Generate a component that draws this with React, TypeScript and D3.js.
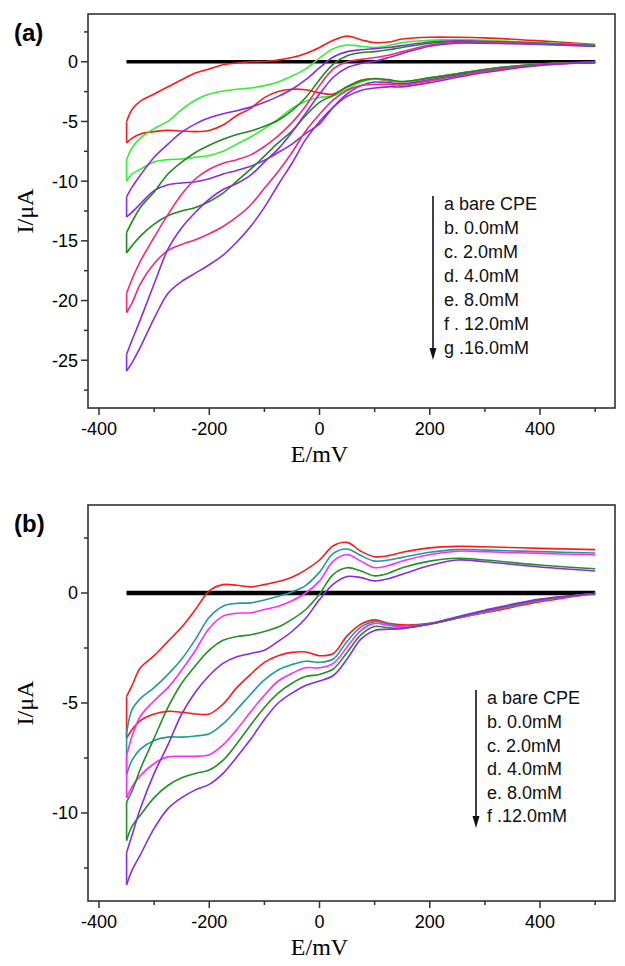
import React from "react";
import * as d3 from "d3";

// potential grid (mV), shared by every branch
const potentials = [-350, -340, -325, -300, -275, -250, -225, -200, -175, -150, -125, -100, -75, -50, -25, 0, 25, 50, 75, 100, 125, 150, 200, 250, 300, 400, 500];

// panel (a): anodic (upper) and cathodic (lower) branches, µA
const aRedUp = [-5.0, -4.0, -3.3, -2.7, -2.1, -1.5, -0.95, -0.6, -0.25, -0.1, 0.0, 0.02, 0.15, 0.35, 0.7, 1.2, 1.8, 2.15, 1.85, 1.6, 1.65, 1.9, 2.05, 2.05, 2.0, 1.75, 1.45];
const aRedLo = [-6.8, -6.4, -6.05, -5.85, -5.75, -5.8, -5.85, -5.75, -5.3, -4.5, -3.9, -3.0, -2.5, -2.3, -2.35, -2.6, -2.7, -2.1, -1.55, -1.45, -1.6, -1.7, -1.35, -1.0, -0.65, -0.2, -0.05];
const aGreenUp = [-8.2, -7.2, -6.4, -5.6, -5.0, -4.0, -3.2, -2.7, -2.45, -2.3, -2.2, -2.0, -1.7, -1.2, -0.6, 0.3, 1.1, 1.4, 1.3, 1.2, 1.35, 1.6, 1.8, 1.85, 1.8, 1.6, 1.4];
const aGreenLo = [-10.0, -9.4, -9.0, -8.4, -8.2, -8.15, -8.0, -7.85, -7.5, -6.9, -6.3, -5.6, -4.8, -3.9, -3.3, -3.0, -2.85, -2.3, -1.7, -1.45, -1.55, -1.7, -1.35, -1.0, -0.65, -0.2, -0.05];
const aPurpleUp = [-11.3, -10.5, -9.5, -8.0, -6.9, -5.9, -5.2, -4.7, -4.35, -4.1, -3.8, -3.4, -2.9, -2.3, -1.5, -0.5, 0.4, 0.85, 1.0, 1.1, 1.2, 1.35, 1.65, 1.75, 1.7, 1.55, 1.35];
const aPurpleLo = [-13.0, -12.6, -11.9, -10.8, -10.3, -10.15, -10.05, -9.8, -9.4, -9.1, -8.75, -8.25, -7.6, -6.9, -6.0, -5.2, -3.8, -2.7, -2.0, -1.7, -1.75, -1.85, -1.5, -1.1, -0.75, -0.25, -0.05];
const aDkGreenUp = [-14.3, -13.4, -12.2, -10.9, -9.4, -8.4, -7.6, -7.0, -6.5, -6.1, -5.8, -5.4, -4.9, -4.1, -3.0, -1.5, -0.2, 0.5, 0.75, 0.85, 1.0, 1.2, 1.55, 1.7, 1.7, 1.55, 1.35];
const aDkGreenLo = [-16.0, -15.4, -14.6, -13.6, -12.9, -12.5, -12.2, -11.7, -11.0, -10.0, -9.0, -7.9, -6.8, -5.8, -4.5, -3.4, -2.8, -2.1, -1.6, -1.4, -1.5, -1.65, -1.35, -1.0, -0.65, -0.2, -0.05];
const aPinkUp = [-19.4, -18.2, -16.7, -14.7, -12.8, -11.1, -9.8, -9.0, -8.5, -8.2, -7.8, -7.1, -6.2, -5.1, -3.7, -2.0, -0.6, 0.0, 0.2, 0.35, 0.55, 0.85, 1.4, 1.6, 1.6, 1.5, 1.3];
const aPinkLo = [-21.0, -20.2, -18.6, -16.9, -15.8, -15.3, -14.9, -14.4, -13.8, -13.0, -12.0, -10.6, -9.2, -7.6, -5.8, -4.4, -3.2, -2.4, -2.0, -1.9, -1.9, -1.95, -1.6, -1.2, -0.8, -0.25, -0.05];
const aVioletUp = [-24.5, -23.3, -21.6, -18.6, -15.7, -13.9, -12.6, -11.5, -10.7, -10.2, -9.5, -8.4, -7.3, -5.9, -4.3, -2.7, -1.3, -0.5, -0.15, 0.05, 0.35, 0.7, 1.3, 1.55, 1.55, 1.45, 1.3];
const aVioletLo = [-25.9, -25.2, -23.9, -21.5, -19.4, -18.4, -17.7, -17.0, -16.2, -15.1, -13.8, -12.2, -10.3, -8.5, -6.5, -5.0, -3.8, -2.9, -2.4, -2.2, -2.1, -2.1, -1.75, -1.3, -0.9, -0.3, -0.05];

// panel (b)
const bRedUp = [-4.7, -4.2, -3.4, -2.85, -2.2, -1.55, -0.75, 0.1, 0.38, 0.35, 0.28, 0.38, 0.52, 0.72, 1.05, 1.5, 2.15, 2.3, 1.9, 1.65, 1.7, 1.85, 2.05, 2.12, 2.1, 2.03, 1.97];
const bRedLo = [-6.6, -6.2, -5.8, -5.5, -5.38, -5.42, -5.5, -5.5, -5.05, -4.3, -3.7, -3.15, -2.85, -2.7, -2.68, -2.85, -2.75, -1.95, -1.42, -1.22, -1.38, -1.45, -1.38, -1.1, -0.9, -0.4, -0.02];
const bTealUp = [-6.36, -5.3, -4.8, -4.3, -3.7, -3.0, -2.1, -1.1, -0.6, -0.47, -0.45, -0.32, -0.15, 0.05, 0.35, 0.95, 1.8, 2.0, 1.7, 1.45, 1.5, 1.62, 1.85, 1.97, 1.95, 1.88, 1.82];
const bTealLo = [-8.26, -7.6, -7.1, -6.7, -6.55, -6.55, -6.5, -6.4, -5.95, -5.3, -4.6, -3.95, -3.5, -3.25, -3.1, -3.15, -3.0, -2.2, -1.55, -1.3, -1.42, -1.5, -1.4, -1.15, -0.88, -0.35, -0.02];
const bMagentaUp = [-7.4, -6.5, -5.6, -4.9, -4.3, -3.5, -2.6, -1.6, -1.05, -0.92, -0.9, -0.75, -0.6, -0.35, 0.0, 0.55, 1.45, 1.75, 1.45, 1.15, 1.25, 1.45, 1.75, 1.9, 1.88, 1.8, 1.74];
const bMagentaLo = [-9.32, -8.8, -8.3, -7.75, -7.45, -7.42, -7.42, -7.35, -6.9, -6.2, -5.4, -4.65, -4.0, -3.65, -3.4, -3.4, -3.2, -2.45, -1.7, -1.38, -1.48, -1.55, -1.42, -1.15, -0.86, -0.33, -0.02];
const bGreenUp = [-9.5, -9.0, -8.0, -6.6, -5.2, -4.1, -3.3, -2.6, -2.15, -1.98, -1.9, -1.75, -1.55, -1.2, -0.75, -0.05, 0.85, 1.15, 1.0, 0.78, 0.9, 1.15, 1.45, 1.58, 1.5, 1.27, 1.1];
const bGreenLo = [-11.25, -10.6, -10.1, -9.3, -8.75, -8.4, -8.2, -8.05, -7.6, -6.85, -6.0, -5.2, -4.55, -4.1, -3.8, -3.7, -3.45, -2.7, -1.9, -1.52, -1.58, -1.6, -1.42, -1.12, -0.82, -0.3, -0.02];
const bPurpleUp = [-11.8, -11.0, -9.8, -8.2, -6.9, -5.5, -4.5, -3.75, -3.2, -2.9, -2.75, -2.6, -2.2, -1.75, -1.15, -0.3, 0.4, 0.75, 0.7, 0.55, 0.65, 0.85, 1.25, 1.5, 1.42, 1.18, 1.0];
const bPurpleLo = [-13.26, -12.6, -11.9, -10.7, -9.8, -9.3, -8.95, -8.7, -8.2, -7.45, -6.65, -5.75, -5.0, -4.55, -4.2, -4.0, -3.75, -3.0, -2.1, -1.7, -1.65, -1.62, -1.4, -1.08, -0.78, -0.28, -0.02];

// bare CPE: nearly flat loop around zero
const bareEnds = [-350, 500];
const bareUp = [0.04, 0.04];
const bareLo = [-0.04, -0.04];

const legendA = ["a bare CPE", "b. 0.0mM", "c. 2.0mM", "d. 4.0mM", "e. 8.0mM", "f . 12.0mM", "g .16.0mM"];
const legendB = ["a bare CPE", "b. 0.0mM", "c. 2.0mM", "d. 4.0mM", "e. 8.0mM", "f .12.0mM"];

const xMajor = [-400, -200, 0, 200, 400];
const xMinor = [-300, -100, 100, 300, 500];
const yMajorA = [0, -5, -10, -15, -20, -25];
const yMinorA = [2.5, -2.5, -7.5, -12.5, -17.5, -22.5, -27.5];
const yMajorB = [0, -5, -10];
const yMinorB = [2.5, -2.5, -7.5, -12.5];

const seriesA = [
  { up: aRedUp, lo: aRedLo, color: "#ff1a1a" },
  { up: aGreenUp, lo: aGreenLo, color: "#33f033" },
  { up: aPurpleUp, lo: aPurpleLo, color: "#8a2be2" },
  { up: aDkGreenUp, lo: aDkGreenLo, color: "#1f8a1f" },
  { up: aPinkUp, lo: aPinkLo, color: "#f5287d" },
  { up: aVioletUp, lo: aVioletLo, color: "#8a2be2" }
];
const seriesB = [
  { up: bRedUp, lo: bRedLo, color: "#ff1a1a" },
  { up: bTealUp, lo: bTealLo, color: "#229999" },
  { up: bMagentaUp, lo: bMagentaLo, color: "#ff2bff" },
  { up: bGreenUp, lo: bGreenLo, color: "#248f24" },
  { up: bPurpleUp, lo: bPurpleLo, color: "#8a2be2" }
];

const LEFT = 88;
const RIGHT = 615;
const sans = "'Liberation Sans', Arial, sans-serif";
const serif = "'Liberation Serif', 'Times New Roman', serif";

function Panel({ top, bottom, yDomain, yMajor, yMinor, series, tag, legend, arrowX, legendTop, legendStep }) {
  const x = d3.scaleLinear().domain([-420, 536]).range([LEFT, RIGHT]);
  const y = d3.scaleLinear().domain(yDomain).range([bottom, top]);
  const line = d3
    .line<number>()
    .x((_, i) => x(potentials[i]))
    .y((d) => y(d))
    .curve(d3.curveCatmullRom.alpha(0.5));
  const x0 = x(potentials[0]);
  const arrowEnd = legendTop + legendStep * (legend.length - 1) + 10;

  return (
    <g>
      <text x={14} y={top + 27} fontFamily={sans} fontWeight="bold" fontSize={24}>{tag}</text>

      {/* bare CPE */}
      {[bareUp, bareLo].map((v, k) => (
        <line key={k} x1={x(bareEnds[0])} x2={x(bareEnds[1])} y1={y(v[0])} y2={y(v[1])}
          stroke="#000" strokeWidth={2.6} />
      ))}

      {series.map((s, i) => (
        <g key={i} fill="none" stroke={s.color} strokeWidth={1.6}>
          <path d={line(s.up)} />
          <path d={line(s.lo)} />
          <line x1={x0} x2={x0} y1={y(s.up[0])} y2={y(s.lo[0])} />
        </g>
      ))}

      {/* frame */}
      <rect x={LEFT} y={top} width={RIGHT - LEFT} height={bottom - top} fill="none" stroke="#333" strokeWidth={1.6} />

      {/* x axis */}
      {xMajor.map((v) => (
        <g key={"xM" + v}>
          <line x1={x(v)} x2={x(v)} y1={bottom} y2={bottom + 7} stroke="#333" strokeWidth={1.5} />
          <text x={x(v)} y={bottom + 27} textAnchor="middle" fontFamily={sans} fontSize={18}>{v}</text>
        </g>
      ))}
      {xMinor.map((v) => (
        <line key={"xm" + v} x1={x(v)} x2={x(v)} y1={bottom} y2={bottom + 4} stroke="#333" strokeWidth={1.5} />
      ))}

      {/* y axis */}
      {yMajor.map((v) => (
        <g key={"yM" + v}>
          <line x1={LEFT - 7} x2={LEFT} y1={y(v)} y2={y(v)} stroke="#333" strokeWidth={1.5} />
          <text x={LEFT - 10} y={y(v)} dy="0.36em" textAnchor="end" fontFamily={sans} fontSize={18}>{v}</text>
        </g>
      ))}
      {yMinor.map((v) => (
        <line key={"ym" + v} x1={LEFT - 4} x2={LEFT} y1={y(v)} y2={y(v)} stroke="#333" strokeWidth={1.5} />
      ))}

      <text x={x(0)} y={bottom + 54} textAnchor="middle" fontFamily={serif} fontSize={24}>E/mV</text>
      <text transform={`translate(33, ${(top + bottom) / 2}) rotate(-90)`} textAnchor="middle"
        fontFamily={serif} fontSize={24}>I/μA</text>

      {/* legend */}
      <line x1={arrowX} x2={arrowX} y1={legendTop - 8} y2={arrowEnd - 8} stroke="#111" strokeWidth={1.6} />
      <path d={`M${arrowX - 3.5},${arrowEnd - 10} L${arrowX + 3.5},${arrowEnd - 10} L${arrowX},${arrowEnd + 2} Z`} fill="#111" />
      {legend.map((t, i) => (
        <text key={t} x={arrowX + 11} y={legendTop + legendStep * i} dy="0.36em" fontFamily={sans} fontSize={18} fill="#111">{t}</text>
      ))}
    </g>
  );
}

export default function App() {
  return (
    <svg width={625} height={966} style={{ position: "absolute", left: 0, top: 0, background: "#fff" }}>
      <Panel top={14} bottom={408} yDomain={[-29, 4]} yMajor={yMajorA} yMinor={yMinorA} series={seriesA}
        tag="(a)" legend={legendA} arrowX={433} legendTop={204} legendStep={24} />
      <Panel top={505} bottom={901} yDomain={[-14, 4]} yMajor={yMajorB} yMinor={yMinorB} series={seriesB}
        tag="(b)" legend={legendB} arrowX={476} legendTop={698} legendStep={23.6} />
    </svg>
  );
}
